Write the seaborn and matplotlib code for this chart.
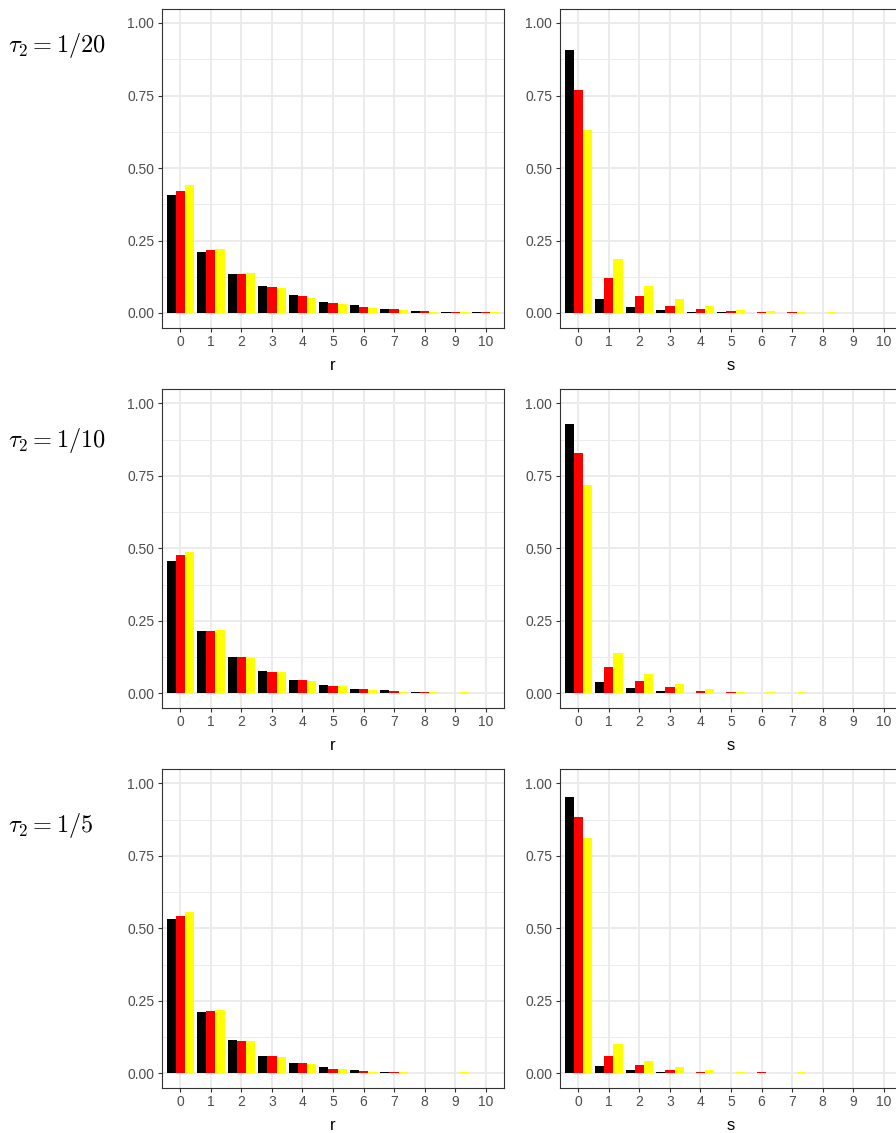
import numpy as np
import pandas as pd
import matplotlib
matplotlib.use("Agg")
import matplotlib.pyplot as plt
from matplotlib.ticker import FixedLocator
import seaborn as sns

# ---------------- data ----------------
counts = list(range(11))
series = ["A", "B", "C"]
colors = ["#000000", "#FF0000", "#FFFF00"]
tau_labels = [r"$\tau_2 = 1/20$", r"$\tau_2 = 1/10$", r"$\tau_2 = 1/5$"]

# tau2 = 1/20
r_20_A = [0.408, 0.212, 0.136, 0.093, 0.061, 0.039, 0.026, 0.0125, 0.008, 0.004, 0.003]
r_20_B = [0.422, 0.217, 0.136, 0.088, 0.057, 0.034, 0.022, 0.0125, 0.008, 0.004, 0.003]
r_20_C = [0.440, 0.221, 0.138, 0.086, 0.053, 0.031, 0.017, 0.009, 0.005, 0.004, 0.004]
s_20_A = [0.906, 0.048, 0.021, 0.0115, 0.004, 0.003, 0.001, 0.001, 0.0005, 0.0, 0.0]
s_20_B = [0.769, 0.119, 0.057, 0.025, 0.014, 0.007, 0.003, 0.003, 0.001, 0.0005, 0.0]
s_20_C = [0.630, 0.186, 0.094, 0.049, 0.023, 0.012, 0.006, 0.004, 0.003, 0.001, 0.0005]

# tau2 = 1/10
r_10_A = [0.457, 0.216, 0.126, 0.077, 0.046, 0.029, 0.016, 0.011, 0.006, 0.002, 0.002]
r_10_B = [0.476, 0.216, 0.126, 0.072, 0.046, 0.025, 0.016, 0.007, 0.003, 0.002, 0.002]
r_10_C = [0.487, 0.219, 0.122, 0.075, 0.041, 0.025, 0.012, 0.006, 0.003, 0.003, 0.0005]
s_10_A = [0.929, 0.038, 0.017, 0.008, 0.002, 0.002, 0.001, 0.0005, 0.0, 0.0, 0.0]
s_10_B = [0.828, 0.092, 0.042, 0.021, 0.007, 0.003, 0.002, 0.002, 0.0005, 0.0, 0.0]
s_10_C = [0.718, 0.140, 0.068, 0.033, 0.016, 0.006, 0.004, 0.004, 0.001, 0.0005, 0.0]

# tau2 = 1/5
r_5_A = [0.531, 0.211, 0.115, 0.060, 0.034, 0.021, 0.011, 0.006, 0.002, 0.002, 0.001]
r_5_B = [0.541, 0.216, 0.110, 0.060, 0.034, 0.015, 0.007, 0.003, 0.002, 0.002, 0.001]
r_5_C = [0.556, 0.217, 0.110, 0.057, 0.031, 0.015, 0.006, 0.003, 0.002, 0.003, 0.0005]
s_5_A = [0.954, 0.025, 0.011, 0.003, 0.002, 0.001, 0.0, 0.0, 0.0, 0.0, 0.0]
s_5_B = [0.883, 0.060, 0.029, 0.012, 0.006, 0.002, 0.003, 0.001, 0.0, 0.0, 0.0]
s_5_C = [0.812, 0.101, 0.042, 0.022, 0.011, 0.003, 0.002, 0.004, 0.0005, 0.0, 0.0]

y_ticks = [0.0, 0.25, 0.5, 0.75, 1.0]
y_ticklabels = ["0.00", "0.25", "0.50", "0.75", "1.00"]

panels = [
    [("r", [r_20_A, r_20_B, r_20_C]), ("s", [s_20_A, s_20_B, s_20_C])],
    [("r", [r_10_A, r_10_B, r_10_C]), ("s", [s_10_A, s_10_B, s_10_C])],
    [("r", [r_5_A, r_5_B, r_5_C]), ("s", [s_5_A, s_5_B, s_5_C])],
]

# ---------------- style ----------------
sns.set_theme(style="white")
plt.rcParams["font.family"] = ["Liberation Sans", "DejaVu Sans"]
plt.rcParams["mathtext.fontset"] = "cm"

W, H = 896, 1133
fig = plt.figure(figsize=(W / 100, H / 100), dpi=100)

col_left = [162, 560]
panel_w = 342
panel_tops = [8.5, 388.8, 768.8]
panel_h = 319
label_y = [45, 441, 826]

grid_col = "#EBEBEB"
border_col = "#333333"
text_col = "#4D4D4D"

for ri, row in enumerate(panels):
    for ci, (name, vals) in enumerate(row):
        left = col_left[ci] / W
        bottom = (H - panel_tops[ri] - panel_h) / H
        ax = fig.add_axes([left, bottom, panel_w / W, panel_h / H])
        df = pd.DataFrame({
            name: np.tile(counts, 3),
            "prob": np.concatenate(vals),
            "series": np.repeat(series, len(counts)),
        })
        sns.barplot(data=df, x=name, y="prob", hue="series", order=counts,
                    hue_order=series, palette=colors, width=0.9,
                    saturation=1, linewidth=0, legend=False, ax=ax, zorder=3)
        ax.set_xlim(-0.6, 10.6)
        ax.set_ylim(-0.05, 1.05)
        ax.set_yticks(y_ticks)
        ax.set_yticklabels(y_ticklabels)
        ax.yaxis.set_minor_locator(FixedLocator([0.125, 0.375, 0.625, 0.875]))
        ax.set_axisbelow(True)
        ax.grid(which="major", color=grid_col, linewidth=1.4, zorder=0)
        ax.grid(which="minor", axis="y", color=grid_col, linewidth=0.7, zorder=0)
        ax.tick_params(axis="both", which="major", length=3, width=0.8,
                       color=border_col, labelcolor=text_col, labelsize=10, pad=2.5,
                       direction="out", bottom=True, left=True)
        ax.tick_params(axis="y", which="minor", length=0)
        for sp in ax.spines.values():
            sp.set_visible(True)
            sp.set_color(border_col)
            sp.set_linewidth(0.8)
        ax.set_ylabel("")
        ax.set_xlabel(name, fontsize=12, color="black", labelpad=6.5)

    fig.text(8 / W, 1 - label_y[ri] / H, tau_labels[ri], fontsize=17.5,
             ha="left", va="center", color="black")

fig.savefig("out.png", dpi=100)
